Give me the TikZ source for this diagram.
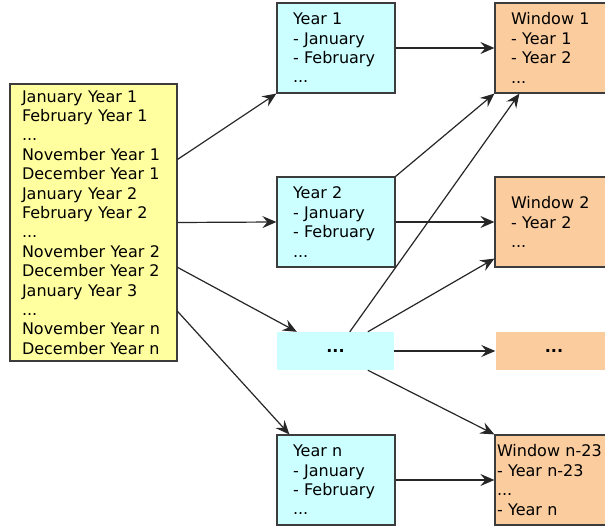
\documentclass[tikz,border=0pt]{standalone}
\usepackage{fontspec}
\setmainfont{DejaVu Sans}
\usetikzlibrary{arrows.meta}

\definecolor{monthfill}{RGB}{255,255,160}
\definecolor{yearfill}{RGB}{204,255,255}
\definecolor{windowfill}{RGB}{251,204,158}
\definecolor{boxline}{RGB}{60,60,60}

\def\boxWidth{118}
\def\boxHeight{90}

\begin{document}
\begin{tikzpicture}[
    x=1pt, y=-1pt,
    font=\fontsize{16}{19.4}\selectfont,
    box/.style={draw=boxline, line width=1.2pt, align=left,
      minimum width=\boxWidth, minimum height=\boxHeight,
      inner xsep=16pt, text width=\boxWidth-32pt},
    yearbox/.style={box, fill=yearfill},
    windowbox/.style={box, fill=windowfill},
    dotsbox/.style={minimum width=117, minimum height=38, inner sep=0pt},
    link/.style={-{Stealth[length=14pt,width=12pt,inset=5pt]}, line width=1.2pt,
      draw=black!85}
  ]
      \useasboundingbox (0,0) rectangle (605,526);
      \clip (0,0) rectangle (605,526);
      \fill[white] (0,0) rectangle (605,526);

      % months, one after the other
      \node[draw=boxline, line width=1.2pt, fill=monthfill, align=left,
        minimum width=167, minimum height=277, inner xsep=12pt,
        text width=143] (months) at (93.5,222.5) {
          January Year 1\\
          February Year 1\\
          ...\\
          November Year 1\\
          December Year 1\\
          January Year 2\\
          February Year 2\\
          ...\\
          November Year 2\\
          December Year 2\\
          January Year 3\\
          ...\\
          November Year n\\
          December Year n};

      % years
      \node[yearbox] (year1) at (336,48) {Year 1\\- January\\- February\\...};
      \node[yearbox] (year2) at (336,222) {Year 2\\- January\\- February\\...};
      \node[dotsbox, fill=yearfill] (yeardots) at (335.5,351) {\textbf{...}};
      \node[yearbox] (yearn) at (336,480) {Year n\\- January\\- February\\...};

      % windows
      \node[windowbox] (win1) at (554,48) {Window 1\\- Year 1\\- Year 2\\...};
      \node[windowbox] (win2) at (554,222) {Window 2\\- Year 2\\...};
      \node[dotsbox, fill=windowfill] (windots) at (554,351) {\textbf{...}};
      \node[windowbox, inner xsep=2pt, text width=114] (winn) at (554,480)
        {Window n-23\\- Year n-23\\...\\- Year n};

      % months to years
      \draw[link] ([yshift=-76]months.north east) -- (year1.south west);
      \draw[link] (months.east) -- (year2.west);
      \draw[link] ([yshift=-184]months.north east) -- ([xshift=20]yeardots.north west);
      \draw[link] ([yshift=-228]months.north east) -- ([xshift=13]yearn.north west);

      % years to windows
      \draw[link] (year1.east) -- (win1.west);
      \draw[link] (year2.north east) -- (win1.south west);
      \draw[link] (year2.east) -- (win2.west);
      \draw[link] ([xshift=73]yeardots.north west) -- ([xshift=25]win1.south west);
      \draw[link] ([xshift=91]yeardots.north west) -- ([yshift=9]win2.south west);
      \draw[link] (yeardots.east) -- (windots.west);
      \draw[link] ([xshift=91]yeardots.south west) -- (winn.north west);
      \draw[link] (yearn.east) -- (winn.west);
\end{tikzpicture}
\end{document}
